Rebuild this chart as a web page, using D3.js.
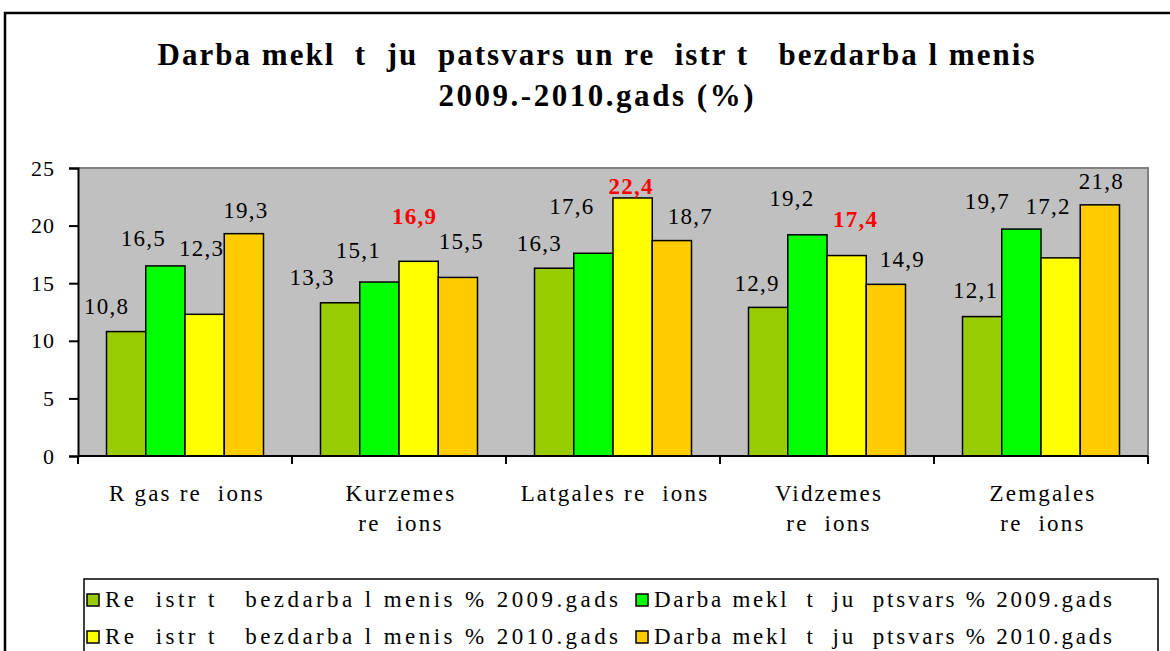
<!DOCTYPE html>
<html>
<head>
<meta charset="utf-8">
<script src="https://cdn.jsdelivr.net/npm/d3@7"></script>
<style>
  body { margin: 0; background: #fff; }
  svg text { font-family: "Liberation Serif", "Times New Roman", serif !important; white-space: pre; }
</style>
</head>
<body>
<div id="chart"></div>
<script>
// Data
const categoryLines = [
  ["R gas re  ions"],
  ["Kurzemes", "re  ions"],
  ["Latgales re  ions"],
  ["Vidzemes", "re  ions"],
  ["Zemgales", "re  ions"]
];
const seriesNames = [
  "Re  istr t   bezdarba l menis % 2009.gads",
  "Darba mekl  t  ju  ptsvars % 2009.gads",
  "Re  istr t   bezdarba l menis % 2010.gads",
  "Darba mekl  t  ju  ptsvars % 2010.gads"
];
const reg2009 = [10.8, 13.3, 16.3, 12.9, 12.1];
const seek2009 = [16.5, 15.1, 17.6, 19.2, 19.7];
const reg2010 = [12.3, 16.9, 22.4, 17.4, 17.2];
const seek2010 = [19.3, 15.5, 18.7, 14.9, 21.8];
// which labels are drawn red and bold (2010 registered, middle regions)
const highlighted = [
  [false, false, false, false, false],
  [false, false, false, false, false],
  [false, true, true, true, false],
  [false, false, false, false, false]
];
const yTicks = [0, 5, 10, 15, 20, 25];
const titleLines = [
  "Darba mekl  t  ju  patsvars un re  istr t   bezdarba l menis",
  "2009.-2010.gads (%)"
];

// label nudges [dx, dy] copied from the hand-placed labels in the picture
const labelNudge = [
  [[-20.5, -18.6], [-29, -19], [-15.7, -18], [-12, -17], [-7.5, -20]],
  [[-23, -21], [-22, -25], [-22.5, -40.5], [-16.5, -30], [-35, -21]],
  [[-4, -59], [-5, -38], [-2.5, -5], [8, -29.6], [-13.5, -45]],
  [[1, -17], [2.5, -29], [17.5, -18], [15.5, -18], [0.5, -16.6]]
];

const colors = ["#99CC00", "#00FF00", "#FFFF00", "#FFCC00"];
const allSeries = [reg2009, seek2009, reg2010, seek2010];

const W = 1170, H = 651;
const plot = { left: 78, right: 1148, top: 168, bottom: 456 };

const svg = d3.select("#chart").append("svg")
  .attr("width", W)
  .attr("height", H);

// outer chart border
svg.append("rect")
  .attr("x", 5).attr("y", 13)
  .attr("width", 1300).attr("height", 800)
  .attr("fill", "#fff")
  .attr("stroke", "#000")
  .attr("stroke-width", 2.5);

// title
svg.append("g").selectAll("text")
  .data(titleLines)
  .enter().append("text")
  .attr("x", 596)
  .attr("y", (d, i) => 65 + i * 41)
  .attr("text-anchor", "middle")
  .style("font-size", "31px")
  .style("font-weight", "bold")
  .attr("textLength", (d, i) => (i === 0 ? 877 : 315))
  .attr("lengthAdjust", "spacing")
  .text((d) => d);

// scales
const x0 = d3.scaleBand()
  .domain(d3.range(categoryLines.length))
  .range([plot.left, plot.right]);
const x1 = d3.scaleBand()
  .domain(d3.range(allSeries.length))
  .range([28.5, x0.bandwidth() - 28.5]);
const y = d3.scaleLinear().domain([0, 25]).range([plot.bottom, plot.top]);

// plot background
svg.append("rect")
  .attr("x", plot.left).attr("y", plot.top)
  .attr("width", plot.right - plot.left)
  .attr("height", plot.bottom - plot.top)
  .attr("fill", "#C0C0C0");
svg.append("path")
  .attr("d", `M${plot.left},${plot.top}H${plot.right}V${plot.bottom}`)
  .attr("fill", "none")
  .attr("stroke", "#808080")
  .attr("stroke-width", 2);

// bars
const flat = [];
allSeries.forEach((vals, s) => {
  vals.forEach((v, c) => flat.push({ s, c, v }));
});

svg.append("g").selectAll("rect")
  .data(flat)
  .enter().append("rect")
  .attr("x", (d) => x0(d.c) + x1(d.s))
  .attr("y", (d) => y(d.v))
  .attr("width", x1.bandwidth())
  .attr("height", (d) => y(0) - y(d.v))
  .attr("fill", (d) => colors[d.s])
  .attr("stroke", "#000")
  .attr("stroke-width", 1.5);

// value labels
svg.append("g").selectAll("text")
  .data(flat)
  .enter().append("text")
  .attr("x", (d) => x0(d.c) + x1(d.s) + x1.bandwidth() / 2 + labelNudge[d.s][d.c][0] + 1)
  .attr("y", (d) => y(d.v) + labelNudge[d.s][d.c][1] + 1)
  .attr("text-anchor", "middle")
  .style("font-size", "23px")
  .style("letter-spacing", "1.3px")
  .style("font-weight", (d) => (highlighted[d.s][d.c] ? "bold" : "normal"))
  .attr("fill", (d) => (highlighted[d.s][d.c] ? "#FF0000" : "#000"))
  .text((d) => d3.format(".1f")(d.v).replace(".", ","));

// y axis
const yAxis = svg.append("g")
  .attr("transform", `translate(${plot.left},0)`)
  .call(d3.axisLeft(y).tickValues(yTicks).tickSize(9).tickPadding(14).tickFormat(d3.format("d")));
yAxis.select(".domain").attr("stroke", "#000").attr("stroke-width", 2);
yAxis.selectAll(".tick line").attr("stroke", "#000").attr("stroke-width", 2);
yAxis.selectAll(".tick text")
  .style("font-size", "22px")
  .style("letter-spacing", "1px")
  .attr("fill", "#000");

// x axis: baseline with ticks at category boundaries
const boundaries = d3.range(categoryLines.length + 1).map((i) => plot.left + i * x0.step());
svg.append("line")
  .attr("x1", plot.left).attr("x2", plot.right)
  .attr("y1", y(0)).attr("y2", y(0))
  .attr("stroke", "#000").attr("stroke-width", 2);
svg.append("g").selectAll("line")
  .data(boundaries)
  .enter().append("line")
  .attr("x1", (d) => d).attr("x2", (d) => d)
  .attr("y1", y(0)).attr("y2", y(0) + 8)
  .attr("stroke", "#000").attr("stroke-width", 2);

// category labels
const catG = svg.append("g").selectAll("g")
  .data(categoryLines)
  .enter().append("g")
  .attr("transform", (d, i) => `translate(${x0(i) + x0.bandwidth() / 2 + 2},0)`);
catG.selectAll("text")
  .data((d) => d)
  .enter().append("text")
  .attr("x", 0)
  .attr("y", (d, i) => 501 + i * 30)
  .attr("text-anchor", "middle")
  .style("font-size", "23px")
  .style("letter-spacing", "2.2px")
  .text((d) => d);

// legend
svg.append("rect")
  .attr("x", 84).attr("y", 579)
  .attr("width", 1074).attr("height", 120)
  .attr("fill", "#fff")
  .attr("stroke", "#000")
  .attr("stroke-width", 1.5);

const legendCols = [87, 636];
const legendWidths = [513, 458];
const legend = svg.append("g").selectAll("g")
  .data(seriesNames)
  .enter().append("g")
  .attr("transform", (d, i) => `translate(${legendCols[i % 2]},${594 + Math.floor(i / 2) * 37})`);

legend.append("rect")
  .attr("width", 12).attr("height", 12)
  .attr("fill", (d, i) => colors[i])
  .attr("stroke", "#000")
  .attr("stroke-width", 1.5);

legend.append("text")
  .attr("x", 18)
  .attr("y", 13)
  .style("font-size", "23px")
  .attr("textLength", (d, i) => legendWidths[i % 2])
  .attr("lengthAdjust", "spacing")
  .text((d) => d);
</script>
</body>
</html>
